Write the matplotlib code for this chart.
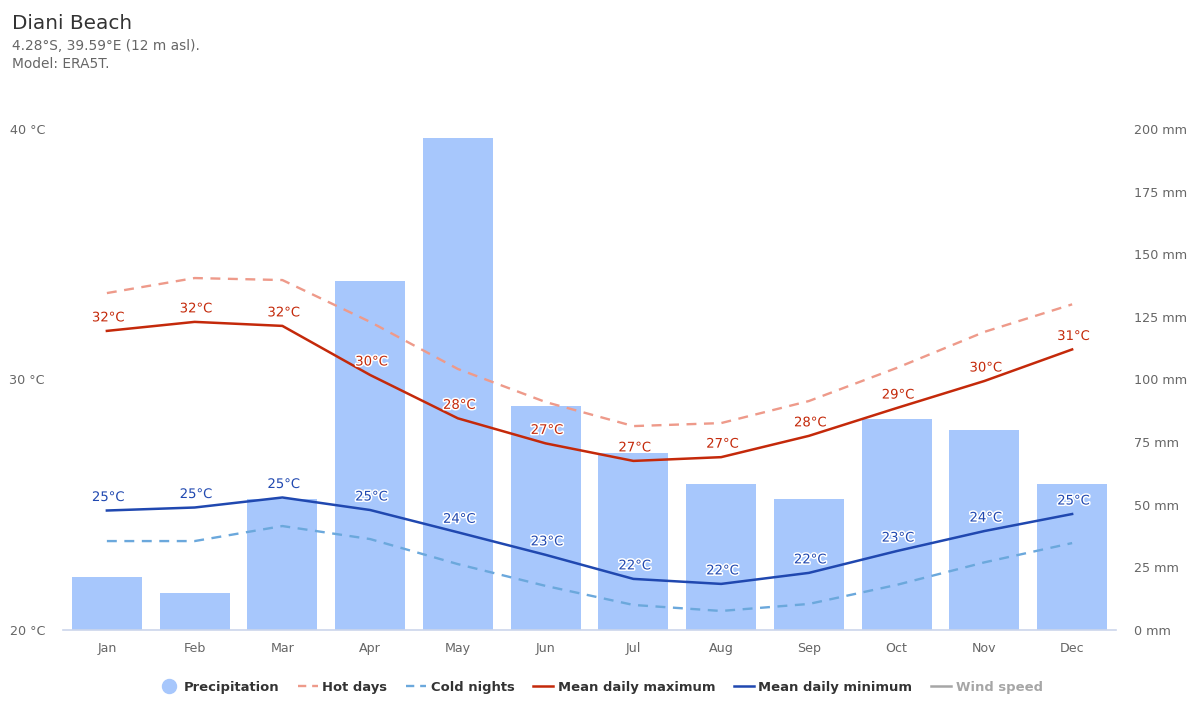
import matplotlib
matplotlib.use("Agg")
import matplotlib.pyplot as plt
import matplotlib.patheffects as pe
from matplotlib.lines import Line2D

months = ["Jan", "Feb", "Mar", "Apr", "May", "Jun", "Jul", "Aug", "Sep", "Oct", "Nov", "Dec"]
precipitation = [21.2, 14.8, 52.3, 139.3, 196.4, 89.4, 70.7, 58.3, 52.3, 84.2, 79.8, 58.3]
hot_days = [33.45, 34.05, 33.97, 32.3, 30.42, 29.1, 28.14, 28.26, 29.14, 30.46, 31.9, 33.0]
cold_nights = [23.55, 23.55, 24.15, 23.63, 22.63, 21.76, 21.0, 20.76, 21.04, 21.8, 22.7, 23.47]
mean_max = [31.94, 32.3, 32.14, 30.18, 28.45, 27.45, 26.75, 26.9, 27.75, 28.86, 29.94, 31.2]
mean_min = [24.77, 24.89, 25.29, 24.79, 23.9, 23.0, 22.04, 21.84, 22.28, 23.15, 23.95, 24.63]
temp_ticks = [20, 30, 40]
rain_ticks = [0, 25, 50, 75, 100, 125, 150, 175, 200]

BAR = "#a7c7fc"
HOT = "#ee9a8a"
COLD = "#6ba8dc"
RED = "#c4290a"
BLUE = "#2048b0"
TICK = "#666666"
GRID = "#e6e6e6"

plt.rcParams["font.family"] = ["DejaVu Sans"]
px = 0.72  # pixels to points at dpi 100

fig = plt.figure(figsize=(12, 7.2), dpi=100)
rect = [63 / 1200, 1 - 630 / 720, (1116 - 63) / 1200, (630 - 129) / 720]

# precipitation sits underneath, its axis goes on the right
ax_rain = fig.add_axes(rect)
xs = list(range(len(months)))
ax_rain.bar(xs, precipitation, width=0.8, color=BAR, zorder=2)
ax_rain.set_xlim(-0.5, 11.5)
ax_rain.set_ylim(0, 200)
ax_rain.set_yticks(rain_ticks)
ax_rain.set_yticklabels([f"{v} mm" for v in rain_ticks], color=TICK, fontsize=12.8 * px)
ax_rain.set_yticks([100, 200], minor=True)
ax_rain.grid(True, which="minor", axis="y", color=GRID, lw=1.3, zorder=0)
ax_rain.set_xticks(xs)
ax_rain.set_xticklabels(months, color=TICK, fontsize=12.6 * px)
ax_rain.tick_params(axis="x", length=0, pad=12 * px)
for side in ["top", "left", "right"]:
    ax_rain.spines[side].set_visible(False)
ax_rain.spines["bottom"].set_color("#ccd6eb")
ax_rain.spines["bottom"].set_linewidth(1.2)

# temperatures on top, axis on the left
ax_temp = ax_rain.twinx()
ax_temp.set_ylim(20, 40)
ax_temp.yaxis.tick_left()
ax_temp.set_yticks(temp_ticks)
ax_temp.set_yticklabels([f"{v} °C" for v in temp_ticks], color=TICK, fontsize=12.8 * px)
ax_temp.tick_params(axis="y", length=0, pad=18 * px)
for side in ["top", "left", "right", "bottom"]:
    ax_temp.spines[side].set_visible(False)

# twinx moves the ticks back, so set the right side after it
ax_rain.yaxis.tick_right()
ax_rain.tick_params(axis="y", which="both", length=0, pad=18 * px)

dash = (0, (4.2, 3.2))
ax_temp.plot(xs, hot_days, color=HOT, lw=1.7, linestyle=dash)
ax_temp.plot(xs, cold_nights, color=COLD, lw=1.7, linestyle=dash)
ax_temp.plot(xs, mean_max, color=RED, lw=1.8, solid_joinstyle="round")
ax_temp.plot(xs, mean_min, color=BLUE, lw=1.8, solid_joinstyle="round")

for series, col in [(mean_max, RED), (mean_min, BLUE)]:
    halo = [pe.Stroke(linewidth=2.2, foreground="white"), pe.Normal()]
    for x, v in zip(xs, series):
        ax_temp.annotate(f"{round(v)}°C", (x, v), xytext=(1.5 * px, 13 * px), textcoords="offset points",
                         ha="center", va="center", color=col, fontsize=13.2 * px,
                         path_effects=halo, zorder=5)

# header
fig.text(12 / 1200, 1 - 29 / 720, "Diani Beach", fontsize=20 * px, color="#333333", va="baseline")
fig.text(12 / 1200, 1 - 50 / 720, "4.28°S, 39.59°E (12 m asl).", fontsize=13.7 * px, color=TICK, va="baseline")
fig.text(12 / 1200, 1 - 68 / 720, "Model: ERA5T.", fontsize=13.7 * px, color=TICK, va="baseline")

# legend
handles = [
    Line2D([], [], marker="o", linestyle="none", color=BAR, markersize=14 * px),
    Line2D([], [], color=HOT, lw=1.7, linestyle=(0, (3.5, 2.5))),
    Line2D([], [], color=COLD, lw=1.7, linestyle=(0, (3.5, 2.5))),
    Line2D([], [], color=RED, lw=1.8),
    Line2D([], [], color=BLUE, lw=1.8),
    Line2D([], [], color="#a6a6a6", lw=1.8),
]
labels = ["Precipitation", "Hot days", "Cold nights", "Mean daily maximum", "Mean daily minimum", "Wind speed"]
leg = fig.legend(handles, labels, loc="center", bbox_to_anchor=(601 / 1200, 1 - 687 / 720), ncol=6,
                 frameon=False, handlelength=1.5, handletextpad=0.35, columnspacing=1.45,
                 prop={"size": 13.1 * px, "weight": "bold"})
for text, col in zip(leg.get_texts(), ["#333333"] * 5 + ["#a6a6a6"]):
    text.set_color(col)

fig.savefig("out.png", dpi=100)
